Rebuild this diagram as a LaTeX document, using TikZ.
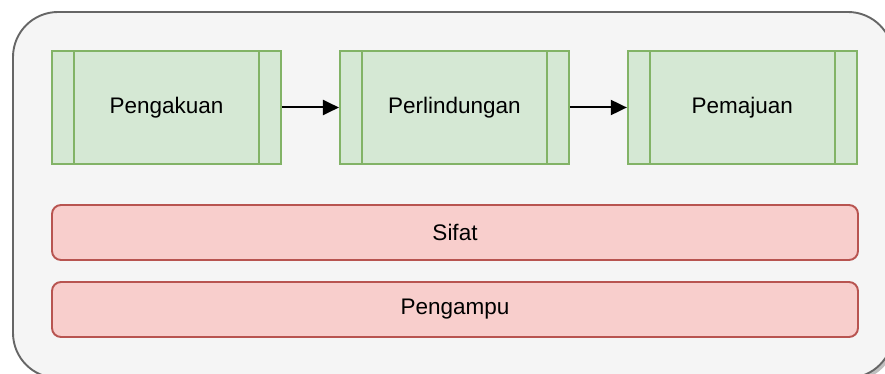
\documentclass[tikz,border=0pt]{standalone}
\usepackage{fontspec}
\setmainfont{Liberation Sans}
\usetikzlibrary{arrows.meta,positioning}
\definecolor{grfill}{HTML}{D5E8D4}
\definecolor{grline}{HTML}{82B366}
\definecolor{rdfill}{HTML}{F8CECC}
\definecolor{rdline}{HTML}{B85450}
\definecolor{bgfill}{HTML}{F5F5F5}
\definecolor{bgline}{HTML}{666666}
\tikzset{
  stage/.style={draw=grline,fill=grfill,line width=1.9pt,minimum width=229pt,minimum height=113pt,font=\fontsize{22.5}{27}\selectfont},
  band/.style={draw=rdline,fill=rdfill,line width=1.9pt,rounded corners=9pt,minimum width=806pt,minimum height=55pt,font=\fontsize{22.5}{27}\selectfont},
  flow/.style={-{Triangle[length=16pt,width=15pt]},line width=2pt}
}
\begin{document}
\begin{tikzpicture}[x=1pt,y=-1pt]
\path[use as bounding box,clip] (0,0) rectangle (885,374);
% outer frame
\fill[black,opacity=0.25,rounded corners=45pt] (16,15) rectangle (896,381);
\draw[bgline,fill=bgfill,line width=1.9pt,rounded corners=45pt] (13,12) rectangle (893,378);

\node[stage] (recog) at (166.5,107.5) {Pengakuan};
\node[stage,right=57pt of recog] (protect) {Perlindungan};
\node[stage,right=57pt of protect] (advance) {Pemajuan};
\foreach \n in {recog,protect,advance}{
  \draw[grline,line width=1.9pt] ([xshift=23pt]\n.north west) -- ([xshift=23pt]\n.south west);
  \draw[grline,line width=1.9pt] ([xshift=-23pt]\n.north east) -- ([xshift=-23pt]\n.south east);
}
\draw[flow] (recog) -- (protect);
\draw[flow] (protect) -- (advance);

\node[band] (nature) at (455,232.5) {Sifat};
\node[band] (steward) at (455,309.5) {Pengampu};
\end{tikzpicture}
\end{document}
